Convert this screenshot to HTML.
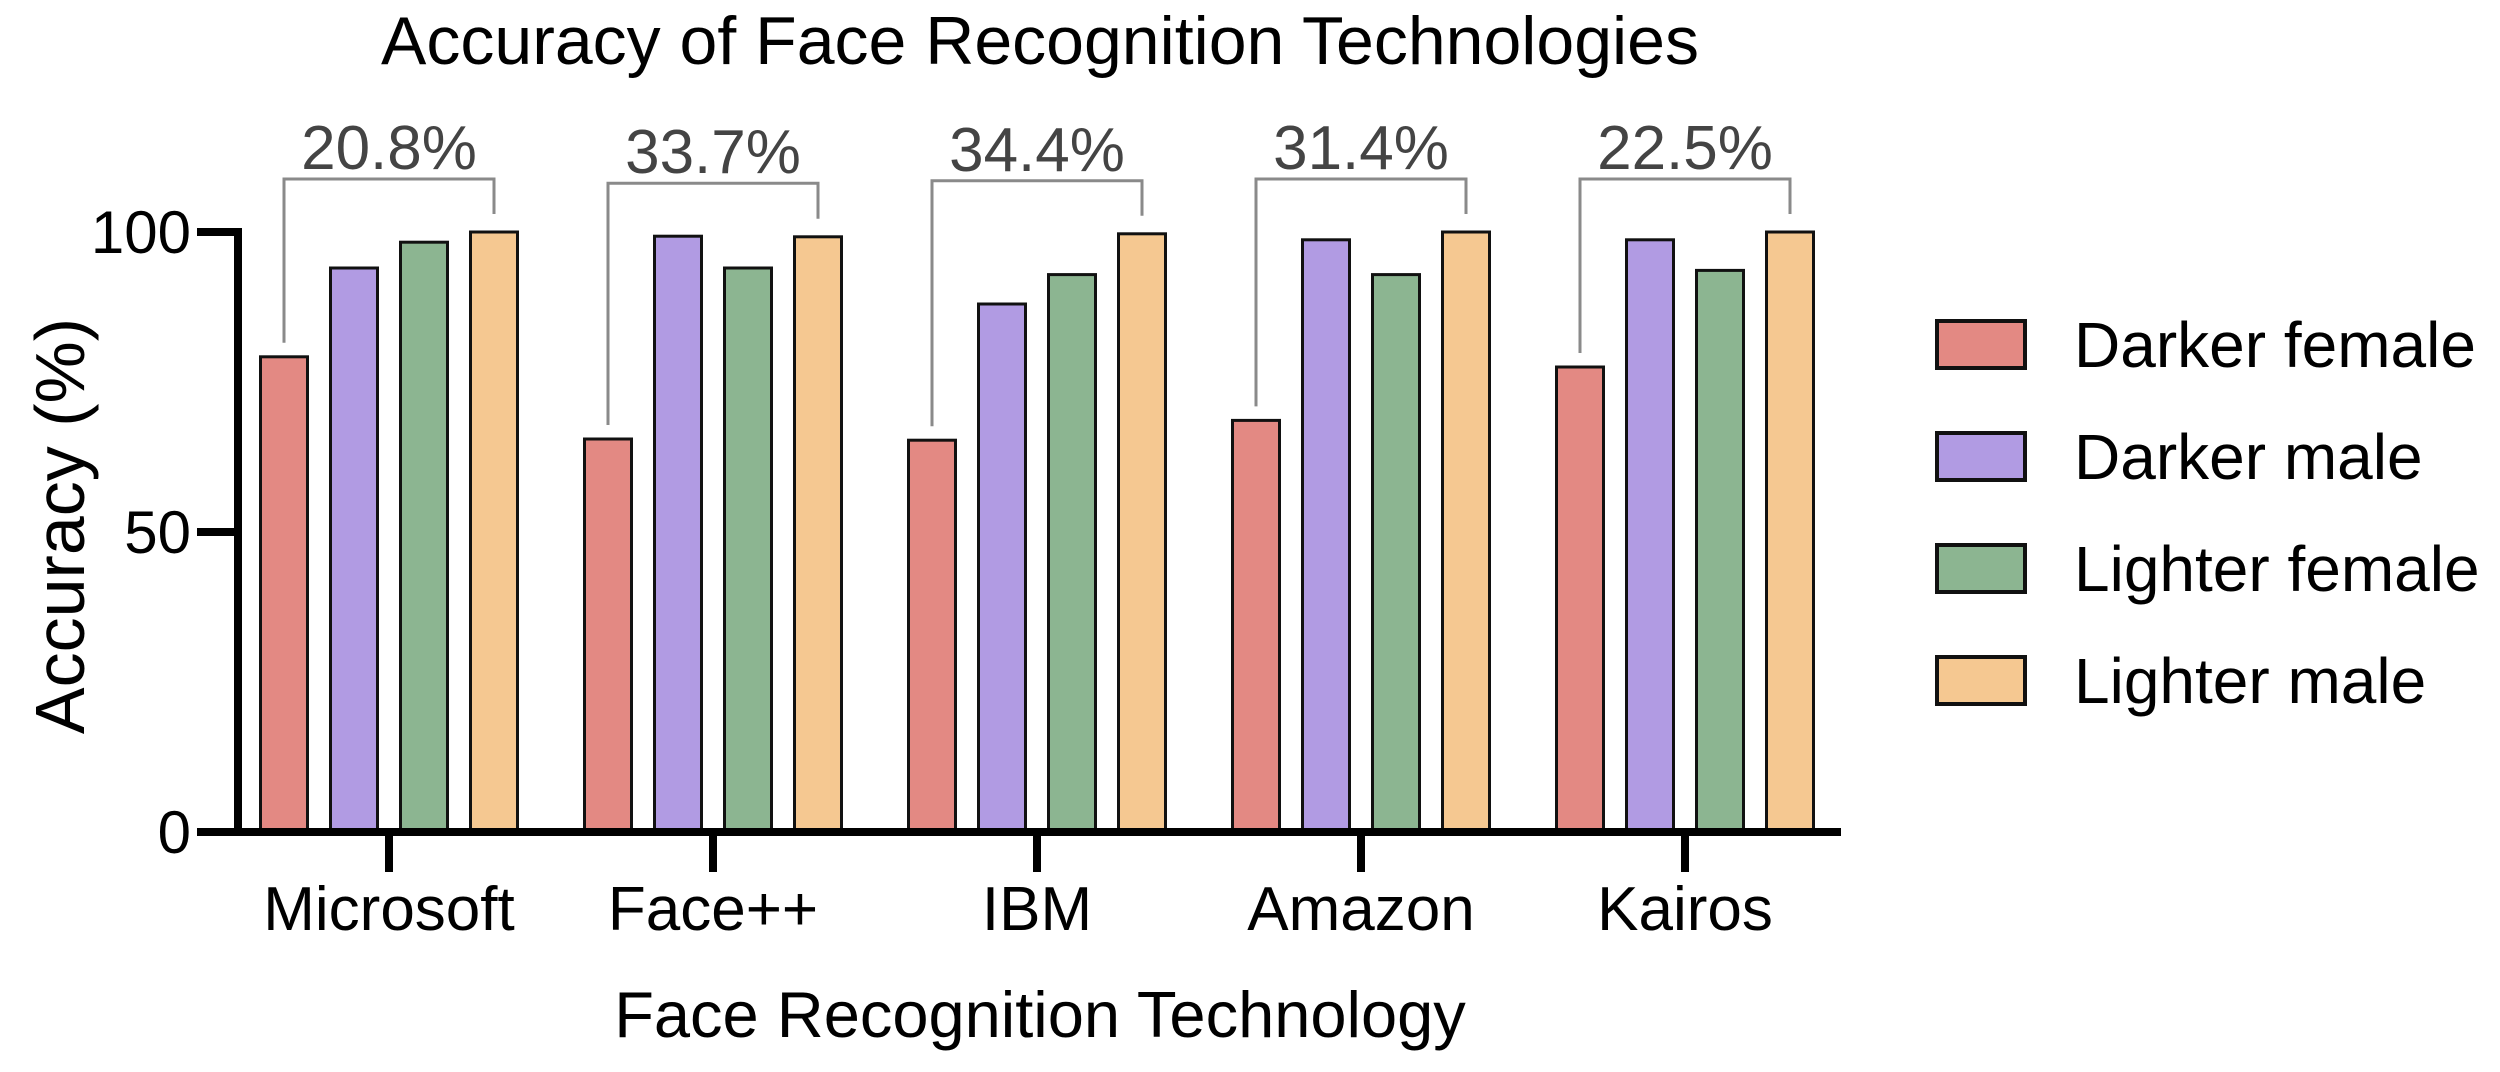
<!DOCTYPE html>
<html><head><meta charset="utf-8"><style>
html,body{margin:0;padding:0;background:#fff;}
svg{display:block;font-family:"Liberation Sans",Arial,sans-serif;}
</style></head><body>
<svg id="chart" width="2500" height="1072" viewBox="0 0 2500 1072">
<text x="1040" y="64" font-size="68" text-anchor="middle" fill="#000">Accuracy of Face Recognition Technologies</text>
<text transform="translate(84,526) rotate(-90)" font-size="70" text-anchor="middle" fill="#000">Accuracy (%)</text>
<text x="1040" y="1037" font-size="65" text-anchor="middle" fill="#000">Face Recognition Technology</text>
<g id="marks"></g>
</svg>
<script>
const categories=["Microsoft","Face++","IBM","Amazon","Kairos"];
const seriesNames=["Darker female","Darker male","Lighter female","Lighter male"];
const darkerFemale=[79.2,65.5,65.3,68.6,77.5];
const darkerMale=[94.0,99.3,88.0,98.7,98.7];
const lighterFemale=[98.3,94.0,92.9,92.9,93.6];
const lighterMale=[100,99.2,99.7,100,100];
const gapLabels=["20.8%","33.7%","34.4%","31.4%","22.5%"];
const yTicks=[0,50,100];
const colors=["#e38983","#b19be3","#8cb591","#f5c891"];
const series=[darkerFemale,darkerMale,lighterFemale,lighterMale];
const NS="http://www.w3.org/2000/svg";
const g=document.getElementById('marks');
const y0=832,y100=232;
const y=v=>y0-(v/100)*(y0-y100);
const groupX=i=>389+i*324;
const barW=47,step=70;
const barX=(i,s)=>groupX(i)+(s-1.5)*step-barW/2;
function mk(tag,attrs){const e=document.createElementNS(NS,tag);for(const k in attrs)e.setAttribute(k,attrs[k]);g.appendChild(e);return e;}
categories.forEach((c,i)=>{
  series.forEach((arr,s)=>{
    const r=mk('rect',{x:barX(i,s),y:y(arr[i]),width:barW,height:y0-y(arr[i]),fill:colors[s],stroke:'#111','stroke-width':3});
    
    
  });
  const xl=barX(i,0)+barW/2, xr=barX(i,3)+barW/2;
  const top=y(Math.max(...series.map(a=>a[i])))-53;
  const p=mk('path',{d:`M${xl},${y(darkerFemale[i])-14} V${top} H${xr} V${y(lighterMale[i])-18}`,fill:'none',stroke:'#8a8a8a','stroke-width':3});
  
  
  const t=mk('text',{x:(xl+xr)/2,y:top-10,'font-size':62,'text-anchor':'middle',fill:'#444'});
  t.textContent=gapLabels[i];
  
  
  const tk=mk('line',{x1:groupX(i),x2:groupX(i),y1:y0,y2:y0+40,stroke:'#000','stroke-width':8});
  
  
  const cl=mk('text',{x:groupX(i),y:930,'font-size':62,'text-anchor':'middle',fill:'#000'});
  cl.textContent=c;
  
  
});
const ya=mk('line',{x1:238,x2:238,y1:y100-4,y2:y0+4,stroke:'#000','stroke-width':8});


const xa=mk('line',{x1:198,x2:1841,y1:y0,y2:y0,stroke:'#000','stroke-width':8});


yTicks.forEach(v=>{
  const l=mk('line',{x1:197,x2:242,y1:y(v),y2:y(v),stroke:'#000','stroke-width':8});
  
  
  const t=mk('text',{x:191,y:y(v)+21,'font-size':60,'text-anchor':'end',fill:'#000'});
  t.textContent=v;
  
  
});
seriesNames.forEach((n,s)=>{
  const yy=321+s*112;
  const r=mk('rect',{x:1937,y:yy,width:88,height:47,fill:colors[s],stroke:'#111','stroke-width':4});
  
  
  const t=mk('text',{x:2074,y:yy+46,'font-size':64,fill:'#000'});
  t.textContent=n;
  
  
});
</script>
</body></html>
